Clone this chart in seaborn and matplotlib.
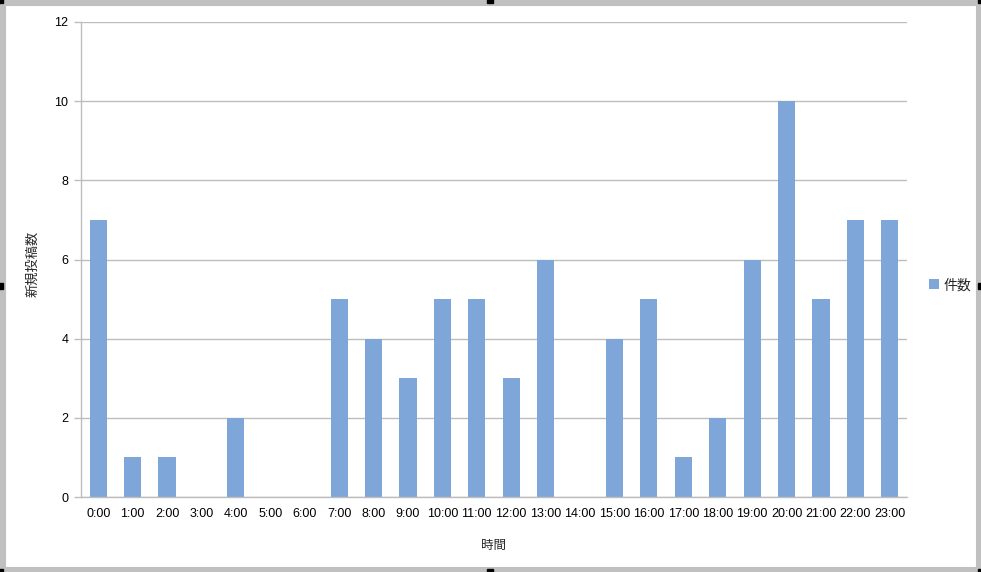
import numpy as np
import pandas as pd
import matplotlib
matplotlib.use("Agg")
import matplotlib.pyplot as plt
import seaborn as sns
from matplotlib.patches import Rectangle

# データ
hours = [f"{h}:00" for h in range(24)]
counts = [7, 1, 1, 0, 2, 0, 0, 5, 4, 3, 5, 5, 3, 6, 0, 4, 5, 1, 2, 6, 10, 5, 7, 7]
series_name = "件数"
x_label = "時間"
y_label = "新規投稿数"

df = pd.DataFrame({"時間": hours, "件数": counts})

sns.set_style("white")
plt.rcParams["font.family"] = ["Liberation Sans", "Noto Sans CJK JP", "DejaVu Sans"]

bar_color = "#7EA6D9"
grid_color = "#BDBDBD"

fig = plt.figure(figsize=(9.81, 5.72), dpi=100)
ax = fig.add_axes([81 / 981, 1 - 497 / 572, (907 - 81) / 981, (497 - 22) / 572])

sns.barplot(data=df, x="時間", y="件数", color=bar_color, width=0.5,
            saturation=1, ax=ax, label=series_name, edgecolor="none")

ax.set_xlim(-0.5, 23.5)
ax.set_ylim(0, 12)
ax.set_yticks(range(0, 13, 2))
ax.yaxis.grid(True, color=grid_color, linewidth=1)
ax.set_axisbelow(True)

for side in ["top", "right"]:
    ax.spines[side].set_visible(False)
for side in ["left", "bottom"]:
    ax.spines[side].set_color(grid_color)
    ax.spines[side].set_linewidth(1)

ax.set_xticks(np.arange(-0.5, 24, 1), minor=True)
ax.tick_params(axis="x", which="major", length=0, labelsize=9, pad=8, labelcolor="black")
ax.tick_params(axis="x", which="minor", length=5, color=grid_color, width=1, direction="out")
ax.tick_params(axis="y", which="major", length=5, color=grid_color, width=1,
               labelsize=9, labelcolor="black", pad=4, direction="out", left=True)

ax.set_xlabel(x_label, fontsize=9)
ax.xaxis.set_label_coords(0.5, -0.09)
ax.set_ylabel(y_label, fontsize=9.5, rotation=90)
ax.yaxis.set_label_coords(-0.05, 0.49)

leg = ax.legend(loc="center left", bbox_to_anchor=(1.012, 0.446), frameon=False,
                fontsize=10, handlelength=0.7, handleheight=0.7, handletextpad=0.3)

# 外枠
w, h = 981, 572
fig.patches.append(Rectangle((0, 0), 1, 1, transform=fig.transFigure, fill=False,
                             edgecolor="#C0C0C0", linewidth=8))
for (px, py) in [(0, 0), (490, 0), (981, 0), (0, 286), (981, 286), (0, 572), (490, 572), (981, 572)]:
    fig.patches.append(Rectangle(((px - 3) / w, (py - 3) / h), 6 / w, 6 / h,
                                 transform=fig.transFigure, color="black"))

fig.savefig("out.png", dpi=100)
